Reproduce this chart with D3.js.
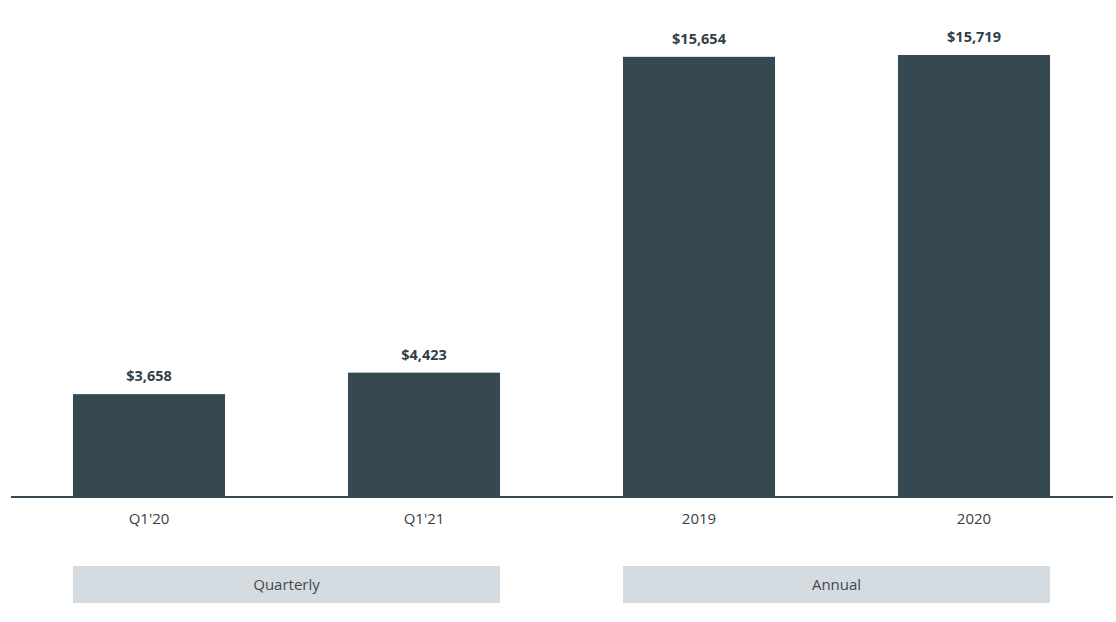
<!DOCTYPE html>
<html>
<head>
<meta charset="utf-8">
<script src="https://cdn.jsdelivr.net/npm/d3@7"></script>
<style>
  body { margin: 0; background: #fff; }
  text { font-family: "Open Sans", "Noto Sans", sans-serif; }
</style>
</head>
<body>
<div id="chart"></div>
<script>
var categories = ["Q1'20", "Q1'21", "2019", "2020"];
var values = [3658, 4423, 15654, 15719];
var groups = ["Quarterly", "Annual"];
var groupMembers = [["Q1'20", "Q1'21"], ["2019", "2020"]];

var width = 1116, height = 622;
var baseline = 497;

var svg = d3.select('#chart').append('svg')
  .attr('width', width)
  .attr('height', height);

var x = d3.scaleBand()
  .domain(categories)
  .range([11.5, 1111.5])
  .paddingInner(0.447)
  .paddingOuter(0.2235);

var y = d3.scaleLinear()
  .domain([0, 15719])
  .range([baseline, 55]);

var fmt = d3.format('$,');

// bars
svg.selectAll('rect.bar')
  .data(values)
  .enter().append('rect')
  .attr('class', 'bar')
  .attr('x', function(d, i){ return x(categories[i]); })
  .attr('y', function(d){ return y(d); })
  .attr('width', x.bandwidth())
  .attr('height', function(d){ return baseline - y(d); })
  .attr('fill', '#364852');

// value labels
svg.selectAll('text.val')
  .data(values)
  .enter().append('text')
  .attr('class', 'val')
  .attr('x', function(d, i){ return x(categories[i]) + x.bandwidth() / 2; })
  .attr('y', function(d){ return y(d) - 13; })
  .attr('text-anchor', 'middle')
  .style('font-size', '14.5px')
  .style('font-weight', 'bold')
  .style('fill', '#333f48')
  .text(function(d){ return fmt(d); });

// x axis
var axis = svg.append('g')
  .attr('transform', 'translate(0,' + baseline + ')')
  .call(d3.axisBottom(x).tickSize(0).tickPadding(16));
axis.select('.domain')
  .attr('d', 'M11,0H1113')
  .attr('stroke', '#364852')
  .attr('stroke-width', 2);
axis.selectAll('text')
  .style('font-family', '"Open Sans", "Noto Sans", sans-serif')
  .style('font-size', '15px')
  .style('fill', '#3c3c3c');

// group boxes
groups.forEach(function(g, i){
  var first = groupMembers[i][0], last = groupMembers[i][groupMembers[i].length - 1];
  var x0 = x(first), x1 = x(last) + x.bandwidth();
  svg.append('rect')
    .attr('x', x0)
    .attr('y', 566)
    .attr('width', x1 - x0)
    .attr('height', 37)
    .attr('fill', '#d4dbe1');
  svg.append('text')
    .attr('x', (x0 + x1) / 2)
    .attr('y', 585)
    .attr('dy', '0.35em')
    .attr('text-anchor', 'middle')
    .style('font-size', '15px')
    .style('fill', '#44494d')
    .text(g);
});
</script>
</body>
</html>
